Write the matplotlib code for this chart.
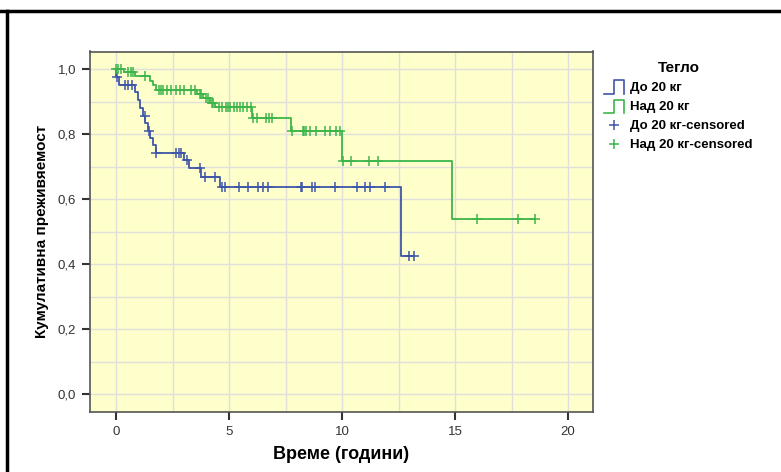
import numpy as np
import matplotlib
matplotlib.use('Agg')
import matplotlib.pyplot as plt
from matplotlib.lines import Line2D
from matplotlib.legend_handler import HandlerBase

plt.rcParams['font.family'] = ['Liberation Sans', 'DejaVu Sans']

# Kaplan-Meier data
# group "До 20 кг"
t_do = [0.02, 0.12, 0.85, 0.97, 1.08, 1.18, 1.30, 1.42, 1.52, 1.63, 1.75,
        3.00, 3.22, 3.75, 4.60, 12.60]
s_do = [0.976, 0.952, 0.928, 0.904, 0.880, 0.857, 0.833, 0.810, 0.787, 0.765, 0.743,
        0.720, 0.697, 0.669, 0.637, 0.425]
cens_do = [0.05, 0.40, 0.55, 0.70, 1.28, 1.44, 1.78, 2.65, 2.78, 2.88, 3.12,
           3.72, 3.95, 4.40, 4.70, 4.80, 5.45, 5.85, 6.30, 6.52, 6.74, 8.17, 8.22,
           8.66, 8.82, 9.69, 10.65, 11.02, 11.24, 11.92, 12.94, 13.16]

# group "Над 20 кг"
t_nad = [0.35, 0.85, 1.50, 1.62, 1.78, 3.58, 3.85, 4.15, 4.40, 6.00, 7.72, 10.00, 14.88]
s_nad = [0.990, 0.978, 0.963, 0.950, 0.936, 0.924, 0.911, 0.897, 0.882, 0.850, 0.808,
         0.717, 0.539]
cens_nad = [0.02, 0.10, 0.20, 0.55, 0.65, 0.75, 1.30, 1.90, 1.97, 2.10, 2.25, 2.45,
            2.65, 2.83, 3.00, 3.30, 3.48, 3.70, 3.78, 4.00, 4.05, 4.25, 4.30, 4.55,
            4.70, 4.85, 4.95, 5.05, 5.20, 5.35, 5.50, 5.62, 5.78, 5.95, 6.05, 6.22,
            6.65, 6.78, 6.92, 7.80, 8.27, 8.33, 8.40, 8.60, 8.85, 9.25, 9.47, 9.75,
            9.93, 10.06, 10.40, 11.20, 11.60, 15.95, 17.80, 18.55]

labels = ['До 20 кг', 'Над 20 кг', 'До 20 кг-censored', 'Над 20 кг-censored']
c_blue = '#3f56a8'
c_green = '#3db54a'


def km_steps(t_ev, s_ev, t_end):
    x = np.r_[0.0, t_ev, t_end]
    y = np.r_[1.0, s_ev, s_ev[-1]]
    return x, y


def level_at(t, t_ev, s_ev):
    idx = np.searchsorted(t_ev, t, side='right')
    return np.r_[1.0, s_ev][idx]


class HandlerStep(HandlerBase):
    # little square-wave icon like in SPSS legends
    def create_artists(self, legend, orig_handle, xdescent, ydescent,
                       width, height, fontsize, trans):
        x0, y0 = -xdescent, -ydescent - 0.35 * height
        h = height * 1.5
        xs = [x0, x0 + 0.5 * width, x0 + 0.5 * width, x0 + width, x0 + width]
        ys = [y0, y0, y0 + h, y0 + h, y0]
        ln = Line2D(xs, ys, color=orig_handle.get_color(), lw=1.2)
        ln.set_transform(trans)
        return [ln]


fig = plt.figure(figsize=(7.81, 4.72), dpi=100)
ax = fig.add_axes([90 / 781, 1 - 412 / 472, 503 / 781, 360.5 / 472])
ax.set_facecolor('#ffffcc')

x1, y1 = km_steps(t_do, s_do, max(cens_do))
x2, y2 = km_steps(t_nad, s_nad, max(cens_nad))
l1, = ax.step(x1, y1, where='post', color=c_blue, lw=1.3)
l2, = ax.step(x2, y2, where='post', color=c_green, lw=1.3)
m1, = ax.plot(cens_do, level_at(cens_do, t_do, s_do), '+', color=c_blue, ms=7, mew=1.1)
m2, = ax.plot(cens_nad, level_at(cens_nad, t_nad, s_nad), '+', color=c_green, ms=7, mew=1.1)

ax.set_xlim(-1.15, 21.1)
ax.set_ylim(-0.055, 1.054)
ax.set_xticks([0, 5, 10, 15, 20])
ax.set_yticks(np.arange(0, 1.01, 0.2))
ax.set_yticklabels([('%.1f' % v).replace('.', ',') for v in np.arange(0, 1.01, 0.2)])
ax.set_xticks(np.arange(0, 21, 2.5), minor=True)
ax.set_yticks(np.arange(0, 1.01, 0.1), minor=True)
ax.tick_params(which='minor', length=0)
ax.tick_params(which='major', length=6, width=1.5, color='#333333', labelsize=9.5,
               labelcolor='#333333', pad=4)
ax.grid(True, which='both', color='#e0dfdc', lw=1.0)
ax.set_axisbelow(True)
for sp in ax.spines.values():
    sp.set_color('#555555')
    sp.set_linewidth(1.2)

ax.set_xlabel('Време (години)', fontsize=13, fontweight='bold', labelpad=6)
ax.set_ylabel('Кумулативна преживяемост', fontsize=11, fontweight='bold', labelpad=6)

leg = fig.legend([l1, l2, m1, m2], labels, loc='upper left',
                 bbox_to_anchor=(604 / 781, 1 - 61 / 472), frameon=False,
                 title='Тегло', handlelength=1.5, handletextpad=0.5,
                 labelspacing=0.52, borderaxespad=0, borderpad=0,
                 prop={'size': 9.5, 'weight': 'bold'},
                 handler_map={l1: HandlerStep(), l2: HandlerStep()})
leg.get_title().set_fontweight('bold')
leg.get_title().set_fontsize(11)

# black frame of the original screenshot
fig.add_artist(Line2D([0, 1], [1 - 10.5 / 472] * 2, color='black', lw=2.5,
                      transform=fig.transFigure))
fig.add_artist(Line2D([6.5 / 781] * 2, [0, 1 - 10.5 / 472], color='black', lw=2.5,
                      transform=fig.transFigure))

fig.savefig('out.png', dpi=100)
